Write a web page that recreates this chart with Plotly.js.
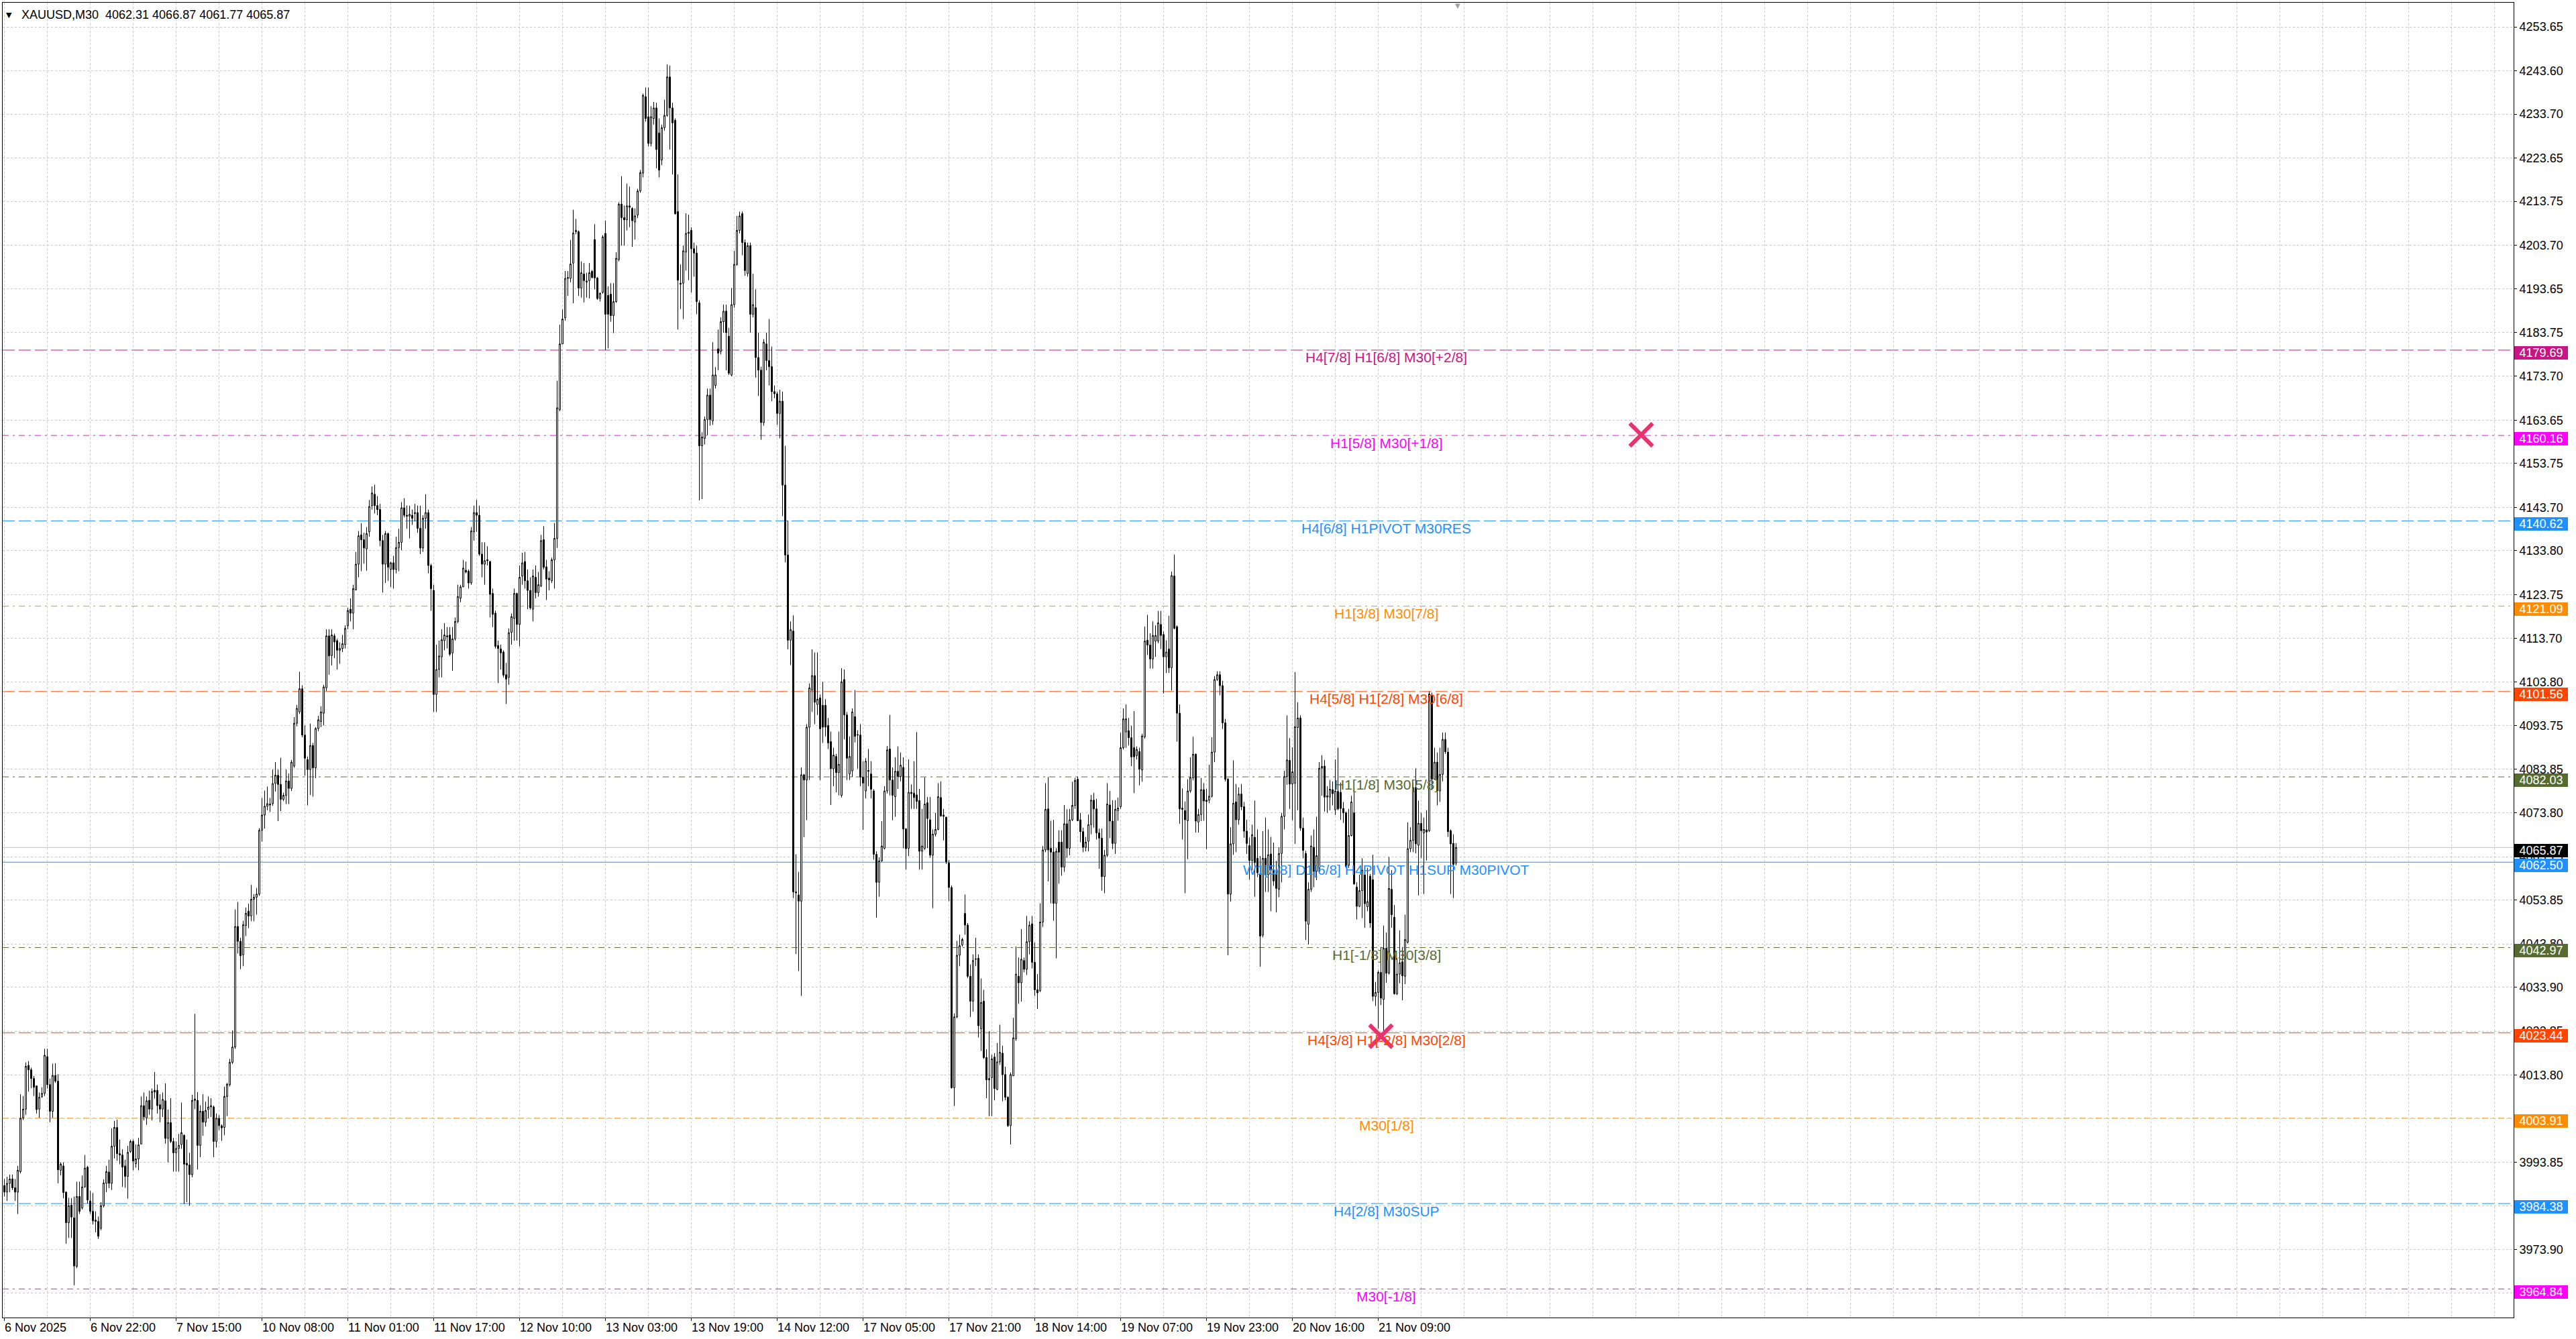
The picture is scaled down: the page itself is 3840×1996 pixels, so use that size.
<!DOCTYPE html>
<html>
<head>
<meta charset="utf-8">
<script src="https://cdn.plot.ly/plotly-3.0.1.min.js"></script>
<style>
html, body { margin: 0; padding: 0; background: #ffffff; overflow: hidden; }
#chart { width: 3840px; height: 1996px; }
</style>
</head>
<body>
<div id="chart"></div>
<script>
// ---------------- DATA ----------------
const symbolName = 'XAUUSD,M30';

const openP = [
3988.5,3987,3989,3990,3988,3987,3991.7,4004,4006,4016,
4015,4013,4011.3,4006,4008.8,4009.6,4018,4011.6,4005.5,4013.7,
4012.4,3992,3993,3987,3980,3984,3981.1,3970,3986,3983.4,
3988.2,3992.7,3985,3982.6,3980.6,3980.3,3978.7,3983.9,3989,3991.6,
3989,3997.5,4001.8,3995.8,3995.5,3993,3990.6,3996.3,3998.6,3993.5,
3994.6,3998,4006.8,4004,4008,4006,4010.3,4010.3,4007,4006,
4007.9,3999.3,4002.9,3998.6,3996,3997,3997.9,4000,3993.6,3993.2,
3991,4008.3,4008,3997.7,4005.5,4003,4005.9,4006.5,4006.5,3998.6,
4003.9,4002.2,4001.8,4008.9,4011.6,4016.7,4020.2,4047.8,4044.4,4041.3,
4048,4051.3,4050.2,4054,4054.5,4055.2,4069.8,4073.3,4075.3,4075.8,
4075.9,4080.5,4082.4,4080.3,4076.9,4077.8,4081.1,4079.4,4084.5,4094.3,
4096.9,4102.2,4091.6,4086.0,4083.7,4089.2,4084.1,4093.1,4094.7,4096.6,
4102.4,4114.3,4109.8,4114.3,4113.2,4111.0,4111.4,4112.3,4116.6,4120.4,
4119.5,4124.8,4130.7,4137.4,4136.3,4134.2,4138.1,4144.1,4146.7,4144.1,
4143.2,4136.1,4130.7,4137.7,4129.5,4131.0,4129.5,4134.5,4135.7,4143.6,
4141.9,4141.7,4141.9,4142.3,4142.5,4138.9,4134.4,4141.2,4142.5,4130.4,
4124.7,4100.9,4106.6,4109.5,4113.2,4114.3,4114.5,4110.4,4113.6,4117.6,
4122.9,4125.5,4129.3,4129.1,4126.4,4138.1,4142.5,4141.9,4133.0,4130.7,
4131.7,4131.3,4124.0,4119.5,4112.1,4111.3,4110.6,4105.4,4104.8,4115.1,
4118.3,4124.0,4116.9,4128.0,4131.3,4126.9,4124.7,4120.4,4127.7,4124.2,
4125.7,4136.3,4130.1,4127.5,4126.9,4131.7,4136.6,4166.1,4181.1,4187.1,
4196.1,4196.1,4199.6,4206.8,4206.8,4193.9,4197.1,4195.5,4195.6,4197.7,
4205.0,4196.2,4191.5,4192.9,4206.4,4192.2,4192.5,4187.6,4190.8,4200.4,
4213.1,4210.0,4209.5,4212.7,4212.1,4209.0,4210.6,4216.1,4220.2,4237.7,
4233.1,4227.0,4232.7,4235.1,4229.4,4223.2,4230.6,4233.4,4242.2,4235.1,
4232.3,4211.4,4195.0,4195.0,4202.1,4206.4,4207.1,4202.9,4201.9,4190.5,
4157.8,4159.5,4163.8,4169.4,4163.5,4171.6,4180.0,4179.4,4186.2,4188.6,
4182.9,4174.0,4190.1,4199.3,4207.1,4210.9,4204.3,4197.2,4203.6,4187.9,
4189.4,4178.0,4175.1,4163.1,4181.1,4177.3,4175.9,4170.2,4169.7,4165.2,
4168.0,4148.8,4132.8,4113.3,4115.4,4055.7,4055.0,4053.6,4082.5,4081.3,
4093.4,4101.9,4105.2,4098.6,4100.1,4098.4,4098.4,4093.8,4090.1,4083.9,
4086.7,4083.0,4077.8,4104.3,4096.2,4082.7,4083.4,4095.8,4091.7,4091.6,
4082.0,4078.8,4083.5,4082.7,4078.8,4064.3,4057.9,4062.8,4065.7,4078.8,
4088.4,4081.3,4077.5,4083.3,4082.1,4084.2,4070.1,4065.7,4078.5,4078.3,
4077.9,4076.6,4065.0,4065.7,4076.1,4072.2,4064.1,4068.9,4070.0,4077.3,
4073.3,4072.8,4062.3,4056.7,4010.9,4027.1,4041.2,4043.6,4050.8,4048.1,
4036.4,4030.7,4040.4,4040.5,4024.4,4030.7,4017.8,4013.0,4013.2,4017.9,
4010.5,4016.8,4018.8,4013.9,4008.7,4002.2,4013.6,4022.1,4036.4,4034.9,
4040.0,4038.0,4044.3,4048.4,4039.6,4033.3,4033.1,4048.8,4065.3,4074.7,
4065.7,4064.8,4053.1,4067.1,4067.1,4061.4,4071.3,4065.7,4072.2,4075.5,
4081.5,4072.2,4069.5,4065.9,4067.3,4071.1,4076.7,4074.7,4069.2,4068.0,
4059.2,4064.1,4075.6,4071.9,4066.8,4074.3,4075.2,4088.7,4092.3,4092.6,
4091.0,4088.7,4086.9,4087.8,4083.6,4091.2,4113.3,4112.2,4109.0,4113.1,
4113.1,4116.9,4114.6,4109.5,4111.3,4107.0,4128.0,4116.4,4096.6,4074.9,
4074.3,4072.0,4078.8,4081.8,4087.2,4071.7,4073.4,4079.1,4076.7,4076.7,
4077.6,4087.7,4104.3,4105.4,4102.9,4094.4,4081.5,4055.2,4066.7,4076.3,
4072.2,4078.1,4075.2,4069.6,4066.3,4062.9,4068.2,4063.4,4059.8,4045.8,
4063.4,4059.6,4064.4,4060.7,4059.8,4056.3,4064.5,4073.0,4082.1,4085.8,
4080.4,4080.5,4093.3,4095.5,4070.3,4064.5,4048.3,4056.3,4065.9,4060.4,
4060.4,4084.0,4084.5,4077.4,4077.4,4079.1,4074.5,4078.7,4078.5,4074.8,
4073.8,4061.8,4068.6,4073.8,4056.8,4052.4,4056.0,4059.6,4052.3,4059.3,
4058.5,4031.8,4032.7,4037.3,4031.1,4042.8,4037.1,4056.3,4049.9,4032.4,
4036.9,4039.7,4036.4,4044.2,4065.6,4067.5,4079.6,4066.4,4071.4,4069.2,
4069.9,4069.7,4100.6,4081.5,4085.4,4078.8,4082.6,4090.6,4087.7,4069.7,
4066.8,4062.31
];

const highP = [
3990,3990.5,3991,3991,3990,3993,4009.4,4009,4016.7,4017,
4015.5,4013.6,4011.4,4009.8,4011,4019.8,4019.8,4013,4016.4,4016.5,
4014,3993.8,3993.8,3987.2,3985.7,3985.6,3986,3989.4,3989.4,3990.8,
3995.5,3993,3987.3,3986.8,3982.6,3981.4,3984.7,3989.9,3993,3994.4,
4001.6,4003.3,4003.6,3999,3996.8,3994.4,3997.6,3999,3999,3997.9,
3999.4,4008.9,4009.8,4008.9,4010.2,4010.7,4014.5,4011.6,4009.4,4009.8,
4011.9,4005.9,4008.5,3999.4,3998.6,4000.3,4007.5,4000.2,3999,3996,
4009.3,4027.8,4009.9,4006.9,4009.4,4007.7,4008.9,4008.5,4006.8,4005,
4004.6,4002.5,4011.1,4012,4017.5,4024,4051.7,4053.4,4045.2,4049.1,
4052.1,4053,4057.3,4055.2,4056.6,4070.3,4077.2,4078.9,4079.8,4077.2,
4083.7,4085.4,4083.7,4086.4,4078.4,4083.7,4082.8,4085.9,4095.7,4098.5,
4106.1,4103.0,4093.8,4086.7,4094.2,4089.8,4093.4,4096.0,4098.2,4103.1,
4115.8,4115.8,4115.8,4114.8,4113.6,4112.8,4114.5,4116.7,4120.7,4122.9,
4126.0,4133.5,4138.3,4140.1,4137.9,4139.2,4145.4,4148.5,4148.9,4146.3,
4144.5,4137.4,4138.3,4137.9,4131.3,4132.6,4137.0,4138.8,4144.9,4145.8,
4144.1,4144.1,4143.2,4144.5,4144.1,4144.1,4141.9,4146.7,4143.2,4130.8,
4126.0,4112.3,4113.2,4115.8,4117.2,4116.3,4116.3,4116.3,4118.5,4126.0,
4126.0,4131.7,4131.3,4129.5,4139.2,4144.1,4145.4,4144.1,4135.7,4135.7,
4134.8,4131.5,4125.1,4120.1,4113.2,4112.3,4111.0,4108.1,4116.0,4119.4,
4125.1,4124.2,4130.4,4133.3,4133.5,4129.5,4127.7,4129.5,4130.4,4128.9,
4137.4,4139.4,4131.7,4129.1,4132.2,4140.1,4172.7,4185.5,4189.0,4197.8,
4197.8,4204.9,4211.8,4209.7,4207.1,4200.0,4199.6,4197.4,4199.6,4198.0,
4208.5,4196.4,4192.9,4206.0,4209.3,4194.3,4195.0,4195.0,4202.1,4213.5,
4219.5,4212.8,4217.8,4217.1,4212.4,4212.1,4216.6,4220.9,4238.4,4239.8,
4239.8,4235.5,4236.5,4236.3,4232.7,4231.3,4237.0,4245.1,4244.8,4236.3,
4232.7,4219.9,4199.3,4203.6,4211.0,4210.7,4207.8,4204.3,4203.6,4191.1,
4160.9,4164.5,4170.9,4170.9,4181.5,4175.8,4184.4,4187.2,4190.1,4190.1,
4184.8,4193.9,4202.4,4210.4,4211.4,4211.4,4205.0,4204.3,4204.3,4197.2,
4193.6,4183.7,4175.9,4182.2,4183.7,4186.8,4180.5,4171.6,4170.2,4170.6,
4170.2,4157.8,4140.7,4117.6,4119.0,4064.3,4060.3,4084.2,4082.7,4094.1,
4103.4,4111.2,4110.5,4110.5,4100.9,4103.8,4099.8,4095.5,4092.4,4088.7,
4087.3,4092.4,4106.9,4106.6,4096.9,4091.3,4097.7,4101.9,4092.7,4094.1,
4085.6,4086.3,4088.4,4085.6,4079.2,4065.0,4063.6,4071.9,4079.9,4089.1,
4096.2,4084.2,4086.5,4089.0,4087.6,4086.5,4070.3,4086.0,4080.3,4085.6,
4092.3,4079.3,4074.7,4081.9,4077.4,4077.4,4070.0,4073.8,4080.6,4081.0,
4074.7,4072.9,4063.0,4057.2,4027.9,4044.5,4045.9,4045.2,4055.1,4048.6,
4039.1,4041.4,4045.2,4041.4,4035.9,4033.3,4019.7,4023.8,4018.4,4018.8,
4021.1,4025.3,4020.5,4015.7,4008.9,4014.4,4026.9,4043.2,4040.7,4047.2,
4040.7,4050.2,4049.0,4050.2,4044.1,4036.9,4053.1,4066.2,4080.6,4082.0,
4072.0,4072.2,4065.7,4069.8,4069.8,4075.6,4074.6,4074.7,4080.9,4081.8,
4082.1,4073.8,4070.4,4068.3,4073.4,4077.9,4078.4,4077.0,4070.2,4070.2,
4065.3,4080.6,4078.8,4076.7,4076.7,4077.3,4092.1,4097.7,4098.6,4095.5,
4093.7,4097.1,4089.0,4088.7,4091.9,4116.4,4119.1,4114.9,4117.6,4116.7,
4120.0,4120.0,4115.3,4113.3,4118.9,4129.0,4132.9,4116.7,4098.6,4079.4,
4076.4,4081.5,4086.5,4091.2,4087.4,4074.7,4081.8,4080.6,4079.3,4084.8,
4091.1,4105.1,4106.2,4106.2,4104.0,4095.3,4081.8,4070.5,4085.8,4080.4,
4079.6,4080.4,4076.3,4072.2,4068.1,4071.1,4076.6,4070.0,4063.9,4069.6,
4072.7,4070.0,4068.3,4067.0,4062.8,4065.9,4073.8,4083.4,4096.1,4090.9,
4088.8,4106.0,4099.1,4096.1,4072.7,4065.1,4057.9,4068.6,4070.0,4072.9,
4085.4,4087.0,4085.9,4079.9,4081.3,4081.0,4086.0,4088.7,4080.7,4076.3,
4074.1,4074.7,4077.7,4079.6,4057.9,4059.6,4063.4,4060.4,4061.2,4059.8,
4064.2,4035.1,4037.7,4043.1,4048.0,4046.4,4063.7,4060.7,4052.7,4040.6,
4046.9,4043.1,4050.5,4071.6,4070.5,4080.7,4084.0,4076.6,4073.8,4072.7,
4074.4,4101.6,4101.3,4088.7,4087.6,4088.7,4092.2,4092.2,4088.7,4070.0,
4068.9,4066.87
];

const lowP = [
3986,3985,3987,3987.5,3985,3982,3991.3,4003.5,4004.7,4010,
4010.8,4009,4005,4004,4008.6,4009,4010.7,4003,4004,4012,
3989,3990.8,3985.6,3975.2,3976.5,3976.5,3965.7,3969.6,3982,3983,
3988,3984.4,3982,3979.6,3977.8,3976.3,3978.3,3983.5,3987,3987.9,
3987.5,3994.7,3994.2,3993.4,3988.2,3988,3985.5,3996,3992,3992.6,
3992,3998,4003.4,4002.4,4004.7,4003.4,4008.4,4005,4003,4004.2,
3998.1,3993.8,3998.2,3991.7,3991.7,3991.7,3996.9,3984.3,3984.7,3983.9,
3990.4,4006,3992.2,3995,3999.9,4002,4003.9,4004.2,3995,3997.2,
4001.2,3998.7,4000,4004.4,4011.2,4016.3,4019.8,4041.6,4038,4038.7,
4045.6,4047.4,4049,4049,4050.5,4054.8,4067.2,4070.2,4074.4,4074,
4075.4,4078.7,4071.9,4074.2,4076.5,4075.8,4075.8,4078.8,4084.1,4093.6,
4096.4,4091.1,4082.3,4075.5,4077.9,4077.5,4081.7,4092.5,4093.4,4093.8,
4101.7,4105.4,4107.5,4109.2,4106.6,4107.9,4110.6,4111.4,4115.8,4117.6,
4115.8,4124.7,4127.7,4129.1,4130.8,4129.2,4137.0,4143.2,4142.3,4141.9,
4134.8,4124.2,4126.4,4126.9,4125.5,4125.1,4128.6,4129.1,4133.9,4141.4,
4138.8,4136.6,4139.7,4140.5,4137.9,4133.0,4133.5,4138.8,4128.6,4120.0,
4096.9,4096.9,4104.8,4104.8,4111.0,4111.4,4109.7,4106.3,4113.2,4117.2,
4122.0,4125.5,4128.6,4125.1,4126.0,4136.1,4138.1,4132.6,4127.7,4126.0,
4130.4,4118.5,4116.3,4111.4,4103.5,4106.6,4104.8,4098.7,4103.1,4112.3,
4113.2,4113.2,4111.9,4126.0,4125.1,4120.4,4120.3,4117.6,4122.9,4123.3,
4125.5,4129.5,4122.5,4124.7,4126.4,4125.1,4134.4,4165.7,4181.1,4186.4,
4192.1,4195.2,4190.4,4206.2,4192.1,4191.7,4190.6,4191.7,4191.5,4196.1,
4193.6,4191.2,4190.8,4192.6,4179.7,4180.1,4186.2,4183.6,4190.5,4200.0,
4203.6,4203.6,4207.1,4207.8,4203.3,4205.0,4209.9,4215.7,4219.2,4232.0,
4226.3,4226.3,4231.3,4221.3,4219.2,4222.0,4229.9,4233.1,4225.6,4219.9,
4210.7,4184.4,4189.1,4186.8,4197.9,4195.7,4192.9,4196.5,4187.9,4145.3,
4145.6,4158.1,4160.2,4162.4,4162.6,4170.9,4175.1,4178.7,4183.7,4175.1,
4174.0,4173.7,4189.4,4199.0,4206.4,4201.4,4196.7,4196.5,4183.7,4187.2,
4173.4,4169.2,4159.2,4162.4,4175.1,4171.6,4168.0,4168.7,4162.6,4159.5,
4141.7,4131.1,4111.2,4107.6,4054.3,4041.5,4037.6,4031.9,4068.2,4072.1,
4081.3,4096.9,4094.1,4096.2,4081.3,4089.8,4091.3,4088.4,4075.6,4079.9,
4078.5,4077.8,4077.3,4090.6,4081.3,4081.3,4082.0,4089.9,4083.9,4079.9,
4069.9,4077.1,4079.9,4077.1,4063.1,4049.8,4054.6,4062.6,4065.4,4078.2,
4077.8,4072.1,4072.9,4079.3,4081.0,4065.7,4060.8,4063.9,4074.7,4074.7,
4074.7,4060.8,4060.8,4065.3,4065.7,4063.5,4052.0,4068.4,4069.8,4072.9,
4067.5,4062.1,4053.6,4010.7,4006.7,4026.8,4038.7,4043.2,4045.9,4036.0,
4027.1,4028.3,4038.7,4022.4,4019.3,4017.5,4008.5,4004.4,4004.4,4008.0,
4010.3,4016.1,4007.8,4008.0,4001.9,3997.9,4013.6,4021.6,4030.1,4030.6,
4037.3,4036.7,4041.4,4038.2,4031.9,4028.9,4032.8,4047.7,4064.8,4058.1,
4053.1,4049.1,4040.5,4057.6,4059.4,4060.3,4063.5,4064.1,4071.9,4074.7,
4071.9,4067.1,4064.8,4065.0,4065.0,4068.9,4070.4,4067.7,4061.0,4056.0,
4055.4,4063.7,4068.0,4065.5,4064.4,4072.0,4074.7,4088.3,4088.7,4089.2,
4084.5,4078.3,4086.0,4080.1,4080.9,4090.8,4109.9,4106.8,4106.8,4109.5,
4112.6,4111.3,4101.1,4105.8,4105.8,4101.8,4115.8,4090.1,4071.3,4067.7,
4055.4,4063.2,4078.4,4081.2,4069.3,4069.3,4071.9,4072.0,4065.5,4076.0,
4077.3,4085.4,4104.0,4100.7,4093.0,4081.0,4041.2,4053.5,4064.2,4064.8,
4071.1,4074.4,4068.1,4064.4,4058.5,4060.7,4054.6,4059.1,4038.6,4045.3,
4055.7,4055.7,4051.3,4057.1,4051.0,4054.5,4057.9,4070.0,4080.2,4074.7,
4072.1,4066.7,4074.4,4069.7,4063.4,4044.7,4043.7,4055.7,4056.8,4058.4,
4060.1,4077.7,4074.1,4073.8,4074.4,4075.5,4073.3,4074.4,4072.2,4071.5,
4061.2,4061.2,4068.4,4057.4,4049.4,4052.2,4049.7,4047.5,4051.3,4047.5,
4030.7,4029.6,4024.4,4029.8,4023.6,4034.9,4036.8,4047.5,4032.2,4032.1,
4034.8,4030.9,4034.6,4043.9,4064.8,4064.8,4064.5,4054.9,4063.4,4055.2,
4062.9,4069.4,4079.0,4081.5,4075.5,4076.3,4081.0,4087.3,4068.3,4055.2,
4054.3,4061.77
];

const closeP = [
3987,3989,3990,3988,3987,3992,4003.9,4006,4015.8,4015,
4013,4011,4005.9,4008.7,4009.6,4018.3,4011.6,4005.5,4013.7,4012.4,
3992.1,3993.4,3986.9,3980,3983.9,3981.3,3970.1,3986,3982.6,3988.2,
3992.5,3985.2,3982.6,3980.4,3980.3,3976.9,3983.9,3989.1,3991.7,3989,
3997.5,4001.8,3995.8,3995.5,3992.7,3990.6,3996.1,3998.6,3994.1,3994.6,
3997.8,4006.8,4004.2,4007.9,4006,4010,4009.9,4006.8,4006,4008.2,
3999.3,4002.9,3998.6,3996,3997,3997.7,4000.6,3993.4,3993.2,3991,
4008,4008,3997.7,4005.5,4003,4005.7,4006.5,4006.8,3998.6,4003.9,
4002.2,4001.7,4008.9,4011.7,4016.7,4020.2,4047.8,4044.4,4041.1,4048.2,
4050.8,4050.2,4054,4054.5,4055.2,4069.8,4073.3,4075.3,4075.9,4075.6,
4080.5,4082.4,4080.3,4076.9,4077.8,4081.1,4079.4,4085.4,4094.3,4097.7,
4102.2,4091.6,4086.3,4083.7,4089.2,4084.1,4093.1,4095.1,4096.9,4102.6,
4114.3,4109.7,4114.5,4112.9,4111.0,4111.4,4112.5,4116.0,4120.1,4119.5,
4125.1,4130.7,4137.2,4136.3,4134.4,4137.7,4143.9,4147.0,4144.1,4143.2,
4136.1,4130.7,4137.7,4130.0,4131.0,4129.5,4134.5,4135.7,4143.6,4141.9,
4141.7,4142.1,4141.2,4142.5,4138.9,4134.4,4141.2,4142.5,4130.4,4125.1,
4100.9,4106.6,4109.7,4113.4,4114.5,4114.1,4110.1,4113.6,4117.6,4123.3,
4125.5,4129.8,4128.9,4126.4,4138.3,4142.5,4141.9,4133.0,4130.7,4131.5,
4131.5,4123.8,4119.2,4111.9,4111.4,4110.4,4105.3,4104.4,4115.0,4118.7,
4124.0,4116.9,4127.7,4131.0,4126.9,4124.7,4120.7,4128.0,4124.2,4126.0,
4136.1,4130.0,4127.3,4127.1,4131.7,4136.6,4166.5,4181.1,4186.8,4196.1,
4196.3,4199.4,4206.5,4207.1,4193.9,4197.4,4195.6,4195.3,4197.4,4196.3,
4196.2,4191.5,4192.7,4205.6,4187.9,4187.9,4187.6,4190.8,4200.7,4213.1,
4210.0,4209.5,4212.7,4212.4,4209.3,4210.4,4216.1,4220.3,4238.0,4232.7,
4227.0,4233.1,4235.1,4225.6,4220.9,4230.6,4233.4,4242.2,4235.1,4231.7,
4210.9,4195.7,4194.8,4202.4,4206.4,4206.7,4202.9,4201.9,4190.8,4157.8,
4159.8,4163.8,4169.4,4163.8,4174.0,4174.0,4179.0,4186.2,4188.6,4183.7,
4174.4,4190.1,4199.3,4207.1,4210.4,4204.3,4197.9,4203.6,4187.9,4190.1,
4178.0,4175.1,4163.1,4181.5,4177.3,4175.9,4170.2,4169.7,4165.2,4168.0,
4148.8,4132.8,4113.3,4115.7,4055.7,4055.5,4053.6,4082.5,4081.3,4093.4,
4102.4,4105.2,4099.1,4099.8,4093.0,4093.4,4093.4,4089.8,4083.9,4087.0,
4083.0,4084.9,4103.8,4096.2,4086.3,4086.7,4096.9,4091.3,4091.6,4082.0,
4080.6,4085.6,4083.3,4079.2,4064.3,4057.9,4062.8,4066.2,4078.8,4088.2,
4081.3,4077.8,4083.3,4082.1,4084.7,4070.1,4065.6,4078.5,4078.2,4077.3,
4076.4,4065.0,4066.2,4075.8,4072.5,4064.1,4068.9,4070.0,4077.5,4073.1,
4073.0,4062.6,4056.7,4010.9,4027.1,4041.2,4043.4,4044.8,4048.1,4036.4,
4030.7,4040.0,4040.3,4025.1,4030.4,4017.8,4012.7,4012.7,4017.5,4010.7,
4016.8,4019.0,4013.9,4008.7,4002.2,4013.9,4022.3,4036.9,4034.9,4040.3,
4038.0,4044.3,4048.1,4039.6,4033.3,4032.6,4048.8,4065.3,4074.6,4065.3,
4064.8,4053.1,4065.0,4064.8,4061.4,4071.3,4065.7,4072.2,4075.5,4081.2,
4072.0,4069.5,4065.9,4067.1,4071.1,4076.7,4074.7,4069.2,4068.0,4059.2,
4064.1,4075.8,4071.9,4066.8,4074.6,4074.9,4088.7,4095.3,4095.3,4091.0,
4086.6,4086.6,4088.3,4083.8,4091.4,4113.1,4112.2,4109.0,4114.4,4114.4,
4117.3,4114.4,4109.5,4110.6,4107.0,4128.1,4116.0,4096.6,4074.7,4074.6,
4072.2,4078.8,4081.9,4087.2,4071.9,4073.4,4079.1,4076.5,4076.4,4077.6,
4087.7,4104.3,4105.4,4102.9,4094.4,4081.5,4055.2,4066.7,4076.0,4072.2,
4078.1,4075.2,4069.6,4066.8,4062.9,4068.8,4062.4,4060.1,4045.6,4063.4,
4059.6,4064.2,4060.7,4058.2,4056.5,4064.5,4073.0,4082.1,4085.9,4080.4,
4083.2,4093.5,4095.5,4070.3,4065.2,4049.0,4056.3,4066.2,4060.4,4064.0,
4084.0,4084.4,4077.4,4077.7,4079.2,4078.2,4078.8,4074.7,4074.8,4073.8,
4061.5,4068.6,4076.3,4057.5,4052.4,4056.0,4060.7,4053.0,4053.5,4048.6,
4031.8,4032.7,4037.3,4031.4,4042.8,4037.1,4056.5,4050.5,4032.4,4036.9,
4039.5,4036.5,4044.8,4065.6,4067.5,4079.6,4066.7,4071.4,4069.7,4070.0,
4069.4,4101.0,4081.5,4085.4,4078.8,4082.6,4090.6,4087.8,4069.5,4066.7,
4062.0,4065.87
];

// time axis labels (bar numbers counted from the first visible M30 bar)
const timeLabels = ['6 Nov 2025','6 Nov 22:00','7 Nov 15:00','10 Nov 08:00','11 Nov 01:00',
  '11 Nov 17:00','12 Nov 10:00','13 Nov 03:00','13 Nov 19:00','14 Nov 12:00','17 Nov 05:00',
  '17 Nov 21:00','18 Nov 14:00','19 Nov 07:00','19 Nov 23:00','20 Nov 16:00','21 Nov 09:00'];
const timeLabelBars = [0,32,64,96,128,160,192,224,256,288,320,352,384,416,448,480,512];

// price scale labels
const priceTicks = [4253.65,4243.60,4233.70,4223.65,4213.75,4203.70,4193.65,4183.75,4173.70,
  4163.65,4153.75,4143.70,4133.80,4123.75,4113.70,4103.80,4093.75,4083.85,4073.80,4063.75,
  4053.85,4043.80,4033.90,4023.85,4013.80,4003.80,3993.85,3983.80,3973.90,3963.85];

// Murrey-math style levels
const levelPrices = [4179.69,4160.16,4140.62,4121.09,4101.56,4082.03,4062.50,4042.97,4023.44,4003.91,3984.38,3964.84];
const levelTexts = ['H4[7/8] H1[6/8] M30[+2/8]','H1[5/8] M30[+1/8]','H4[6/8] H1PIVOT M30RES',
  'H1[3/8] M30[7/8]','H4[5/8] H1[2/8] M30[6/8]','H1[1/8] M30[5/8]',
  'W1[5/8] D1[6/8] H4PIVOT H1SUP M30PIVOT','H1[-1/8] M30[3/8]','H4[3/8] H1[-2/8] M30[2/8]',
  'M30[1/8]','H4[2/8] M30SUP','M30[-1/8]'];

// cross markers
const markBars = [610, 513];
const markPrices = [4160.3, 4022.7];

// ---------------- STYLE ----------------
const levelColors = ['#C71585','#FF00FF','#1E90FF','#FF8C00','#FF4500','#556B2F',
  '#1E90FF','#556B2F','#FF4500','#FF8C00','#1E90FF','#FF00FF'];
const DASH = '18px,6px', DASHDOT = '9px,6px,3px,6px';
const levelDash = [DASH,DASHDOT,DASH,DASHDOT,DASH,DASHDOT,'solid',DASHDOT,DASH,DASHDOT,DASH,DASHDOT];
const FONT = 'Liberation Sans, Arial, sans-serif';
const GRID = '#C8C8C8';
const labelBar = 515;

const bars = openP.map((_, i) => i);
const last = closeP.length - 1;
const fmt = v => v.toFixed(2);

const candle = {
  type: 'candlestick', x: bars, open: openP, high: highP, low: lowP, close: closeP,
  increasing: { line: { color: '#000000', width: 1 }, fillcolor: '#FFFFFF' },
  decreasing: { line: { color: '#000000', width: 1 }, fillcolor: '#000000' },
  whiskerwidth: 0, hoverinfo: 'skip', showlegend: false
};
const marks = {
  type: 'scatter', mode: 'markers', x: markBars, y: markPrices, hoverinfo: 'skip', showlegend: false,
  marker: { symbol: 'x-thin', size: 34, color: '#E8336D', line: { width: 6, color: '#E8336D' } }
};

const shapes = levelPrices.map((p, i) => ({
  type: 'line', xref: 'paper', x0: 0, x1: 1, yref: 'y', y0: p, y1: p, layer: 'between',
  line: { color: levelColors[i], width: 1, dash: levelDash[i] }
}));
shapes.push({ type: 'line', xref: 'paper', x0: 0, x1: 1, yref: 'y', y0: closeP[last], y1: closeP[last],
  layer: 'between', line: { color: '#C0C0C0', width: 1 } });

const annotations = [];
levelPrices.forEach((p, i) => annotations.push({
  xref: 'x', x: labelBar, yref: 'y', y: p, xanchor: 'center', yanchor: 'middle', yshift: -11,
  text: levelTexts[i], showarrow: false, font: { family: FONT, size: 21, color: levelColors[i] }
}));
function priceBox(p, bg) {
  annotations.push({
    xref: 'paper', x: 1, xanchor: 'left', xshift: 1, yref: 'y', y: p, yanchor: 'middle', yshift: -4.5,
    text: fmt(p), showarrow: false, bgcolor: bg, borderpad: 0, borderwidth: 0, width: 80, align: 'center',
    font: { family: FONT, size: 18, color: '#FFFFFF' }
  });
}
levelPrices.forEach((p, i) => priceBox(p, levelColors[i]));
priceBox(closeP[last], '#000000');
timeLabels.forEach((t, i) => annotations.push({
  xref: 'x', x: timeLabelBars[i], xanchor: 'left', xshift: -2, yref: 'paper', y: 0, yanchor: 'top', yshift: -3,
  text: t, showarrow: false, font: { family: FONT, size: 18, color: '#000000' }
}));
annotations.push({ xref: 'paper', x: 0, xanchor: 'left', xshift: 3, yref: 'paper', y: 1, yanchor: 'middle', yshift: -18,
  text: '\u25BC', showarrow: false, font: { family: 'DejaVu Sans', size: 11, color: '#000000' } });
annotations.push({ xref: 'paper', x: 0, xanchor: 'left', xshift: 26, yref: 'paper', y: 1, yanchor: 'middle', yshift: -18,
  text: symbolName + '\u00A0\u00A0' + [openP[last], highP[last], lowP[last], closeP[last]].map(fmt).join(' '),
  showarrow: false, font: { family: FONT, size: 18, color: '#000000' } });
annotations.push({ xref: 'x', x: last + 0.5, xanchor: 'center', yref: 'paper', y: 1, yanchor: 'top', yshift: 3,
  text: '\u25BC', showarrow: false, font: { family: 'DejaVu Sans', size: 10, color: '#A0A0A0' } });

const layout = {
  width: 3840, height: 1996,
  margin: { l: 4, r: 93, t: 4, b: 32, pad: 0 },
  paper_bgcolor: '#FFFFFF', plot_bgcolor: '#FFFFFF',
  showlegend: false, boxgap: 0.5, boxgroupgap: 0,
  xaxis: {
    type: 'linear', range: [-0.625, 935.125], rangeslider: { visible: false },
    tickmode: 'array', tickvals: timeLabelBars, showticklabels: false,
    ticks: 'outside', ticklen: 4, tickcolor: '#000000',
    showgrid: true, gridcolor: GRID, griddash: '3px,3px', gridwidth: 1,
    minor: { tick0: 0, dtick: 16, showgrid: true, gridcolor: GRID, griddash: '3px,3px', gridwidth: 1, ticks: '' },
    showline: true, linecolor: '#000000', linewidth: 1, mirror: true, zeroline: false, fixedrange: true
  },
  yaxis: {
    side: 'right', range: [3958.3, 4259.2],
    tickmode: 'array', tickvals: priceTicks, ticktext: priceTicks.map(fmt),
    ticks: 'outside', ticklen: 4, tickcolor: '#000000',
    tickfont: { family: FONT, size: 18, color: '#000000' },
    showgrid: true, gridcolor: GRID, griddash: '3px,3px', gridwidth: 1,
    showline: true, linecolor: '#000000', linewidth: 1, mirror: true, zeroline: false, fixedrange: true
  },
  shapes: shapes,
  annotations: annotations
};

Plotly.newPlot('chart', [candle, marks], layout, { staticPlot: true, displayModeBar: false });
</script>
</body>
</html>
